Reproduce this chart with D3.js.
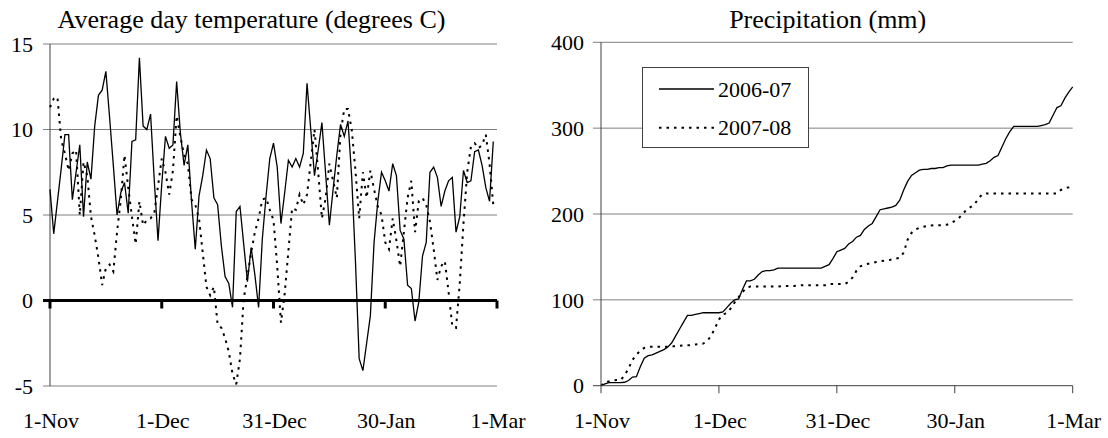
<!DOCTYPE html>
<html>
<head>
<meta charset="utf-8">
<script src="https://cdn.jsdelivr.net/npm/d3@7/dist/d3.min.js"></script>
<style>
  body { margin: 0; background: #fff; }
</style>
</head>
<body>
<div id="chart"></div>
<script>
// day index 0 = 1-Nov
const dayTicks = [0, 30, 60, 90, 120];
const dayLabels = ["1-Nov", "1-Dec", "31-Dec", "30-Jan", "1-Mar"];
const seasons = ["2006-07", "2007-08"];

const tempTicks = [-5, 0, 5, 10, 15];
const rainTicks = [0, 100, 200, 300, 400];

// average day temperature, degrees C, 1-Nov .. 28-Feb
const temp0607 = [
  6.5, 3.9, 5.8, 7.7, 9.7, 9.7, 5.9, 7.5, 9.1, 4.9,
  8.1, 7.1, 10.2, 12.0, 12.3, 13.4, 10.7, 7.9, 5.0, 6.3,
  6.9, 5.1, 9.3, 9.4, 14.2, 10.2, 10.0, 10.9, 7.0, 3.5,
  6.8, 9.6, 8.9, 9.1, 12.8, 9.8, 7.9, 9.1, 5.8, 3.0,
  6.1, 7.3, 8.8, 8.3, 6.0, 5.6, 3.2, 1.4, 1.0, -0.4,
  5.2, 5.5, 3.3, 1.1, 3.1, 1.5, -0.4, 3.6, 6.1, 8.3,
  9.2, 7.8, 4.5, 6.3, 8.2, 7.8, 8.3, 7.8, 8.6, 12.7,
  10.0, 7.3, 8.8, 10.4, 7.4, 4.4, 6.5, 8.5, 10.3, 9.6,
  10.5, 7.2, 2.3, -3.4, -4.1, -2.5, -0.9, 3.4, 5.8, 7.5,
  7.0, 6.4, 8.0, 7.3, 4.1, 3.6, 0.9, 0.7, -1.2, -0.1,
  2.6, 3.4, 7.5, 7.8, 7.2, 5.5, 6.4, 7.0, 7.2, 4.0,
  4.9, 7.6, 6.9, 7.0, 8.7, 8.8, 7.9, 6.6, 5.8, 9.3
];
const temp0708 = [
  11.3, 11.8, 11.9, 9.4, 8.6, 7.6, 8.6, 8.8, 5.0, 8.1,
  7.3, 4.9, 3.8, 2.5, 0.9, 1.9, 2.1, 1.7, 4.0, 5.9,
  8.5, 6.6, 4.9, 3.3, 5.8, 4.4, 4.7, 4.8, 5.1, 6.7,
  8.3, 7.5, 6.2, 7.6, 10.8, 9.6, 8.5, 8.0, 5.9, 5.6,
  4.8, 2.8, 0.8, 0.3, 0.8, -1.4, -1.6, -2.2, -3.0, -4.3,
  -4.9, -3.4, 0.1, 1.4, 2.8, 4.0, 4.8, 5.9, 6.0, 5.3,
  4.7, 2.0, -1.3, 0.4, 2.9, 5.4, 5.3, 6.2, 5.6, 6.2,
  8.1, 10.0, 7.5, 4.8, 6.0, 8.0, 7.0, 6.0, 9.8, 11.2,
  11.2, 10.0, 7.6, 4.8, 7.5, 6.0, 7.6, 6.5, 5.5, 5.0,
  3.4, 3.0, 4.8, 3.5, 2.0, 4.0, 6.0, 7.0, 4.0, 5.8,
  6.0, 5.6, 4.6, 3.0, 1.2, 2.0, 2.3, 0.5, -1.5, -1.6,
  1.0, 4.5, 7.5, 9.0, 9.2, 8.9, 9.1, 9.7, 8.0, 5.6
];

// cumulative precipitation, mm, 1-Nov .. 1-Mar
const rain0607 = [
  0, 2, 3.5, 3.5, 3.5, 3.5, 4, 6, 10, 10.5,
  22, 32, 35, 36, 38, 40, 42, 45, 50, 58,
  66, 74, 82, 82, 83, 84, 85, 85, 85, 85,
  85, 86, 91, 96, 100, 101, 112, 122, 122, 124,
  129, 133, 134, 134, 135, 137, 137, 137, 137, 137,
  137, 137, 137, 137, 137, 137, 137, 139, 141, 148,
  156, 158, 160, 165, 168, 173, 175, 182, 186, 189,
  197, 205, 206, 207, 208, 210, 216, 228, 238, 245,
  248, 251, 252, 252, 253, 253, 254, 254, 256, 257,
  257, 257, 257, 257, 257, 257, 257, 258, 259, 262,
  266, 268, 278, 288, 296, 302, 302, 302, 302, 302,
  302, 302, 303, 304, 306, 315, 324, 326, 335, 342,
  348
];
const rain0708 = [
  0, 4, 5, 6, 6.5, 6.6, 12, 20, 30, 36,
  41, 44, 45, 45.5, 45.5, 45.5, 45.5, 45.5, 46, 46,
  46.5, 47, 47, 47.4, 48, 48.5, 49, 52, 58, 67,
  77, 83, 84.5, 90, 97, 103, 109, 114, 115.5, 115.5,
  115.5, 115.5, 115.5, 115.5, 115.5, 115.5, 116, 116, 116, 116,
  116.5, 117, 117, 117, 117, 117, 117, 117, 118.5, 118.5,
  118.5, 118.5, 118.5, 121, 126, 134, 139, 141, 142, 143,
  144, 145, 145.5, 146, 147, 148, 149, 155, 170, 178,
  182, 184, 185, 186, 186.5, 187, 187, 187, 187.5, 189,
  192, 195, 200, 205, 208, 211, 218, 223, 224, 224,
  224, 224, 224, 224, 224, 224, 224, 224, 224, 224,
  224, 224, 224, 224, 224, 224, 224, 228, 230, 231,
  232
];

const gridColor = "#7f7f7f";
const dotted = "2.5,5";
const serif = "'Liberation Serif', 'DejaVu Serif', serif";

let svg = d3.select("#chart").append("svg")
  .attr("width", 1108).attr("height", 438);

// ---------- left: temperature ----------
let xT = d3.scaleLinear().domain([0, 120]).range([50, 497]);
let yT = d3.scaleLinear().domain([-5, 15]).range([386, 44]);

let left = svg.append("g");

label(left, 251.5, 28, 26, "middle").text("Average day temperature (degrees C)");

left.selectAll("line.grid")
  .data(tempTicks.filter(d => d !== 0))
  .enter().append("line")
  .attr("class", "grid")
  .attr("x1", 43).attr("x2", 497)
  .attr("y1", d => yT(d)).attr("y2", d => yT(d))
  .attr("stroke", gridColor).attr("stroke-width", 1);

left.append("line")
  .attr("x1", 50).attr("x2", 50)
  .attr("y1", yT(15)).attr("y2", yT(-5))
  .attr("stroke", "#404040").attr("stroke-width", 1);

tempTicks.forEach(function(t) {
  label(left, 33, yT(t), 22, "end").attr("dy", "0.35em").text(t);
});

drawLines(left, xT, yT, [
  { values: temp0607, dash: null },
  { values: temp0708, dash: dotted }
]);

// thick zero line with month ticks
left.append("line")
  .attr("x1", 43).attr("x2", 497)
  .attr("y1", yT(0)).attr("y2", yT(0))
  .attr("stroke", "#000").attr("stroke-width", 3);

left.selectAll("line.xtick")
  .data(dayTicks)
  .enter().append("line")
  .attr("class", "xtick")
  .attr("x1", d => xT(d)).attr("x2", d => xT(d))
  .attr("y1", yT(0)).attr("y2", yT(0) + 8)
  .attr("stroke", "#000").attr("stroke-width", 3);

xLabels(left, xT);

// ---------- right: precipitation ----------
let xR = d3.scaleLinear().domain([0, 120]).range([601, 1072.7]);
let yR = d3.scaleLinear().domain([0, 400]).range([385.7, 42.3]);

let right = svg.append("g");

label(right, 827.7, 28, 26, "middle").text("Precipitation (mm)");

right.selectAll("line.grid")
  .data(rainTicks.filter(d => d !== 0))
  .enter().append("line")
  .attr("class", "grid")
  .attr("x1", 593).attr("x2", 1072.7)
  .attr("y1", d => yR(d)).attr("y2", d => yR(d))
  .attr("stroke", gridColor).attr("stroke-width", 1);

rainTicks.forEach(function(t) {
  label(right, 584, yR(t), 22, "end").attr("dy", "0.35em").text(t);
});

drawLines(right, xR, yR, [
  { values: rain0607, dash: null },
  { values: rain0708, dash: dotted }
]);

right.append("line")
  .attr("x1", 601).attr("x2", 601)
  .attr("y1", yR(400)).attr("y2", yR(0))
  .attr("stroke", "#404040").attr("stroke-width", 1);

right.append("line")
  .attr("x1", 593).attr("x2", 1072.7)
  .attr("y1", yR(0)).attr("y2", yR(0))
  .attr("stroke", "#404040").attr("stroke-width", 1);

right.selectAll("line.xtick")
  .data(dayTicks)
  .enter().append("line")
  .attr("class", "xtick")
  .attr("x1", d => xR(d)).attr("x2", d => xR(d))
  .attr("y1", yR(0)).attr("y2", yR(0) + 7.5)
  .attr("stroke", "#404040").attr("stroke-width", 1);

xLabels(right, xR);

// legend
let legend = right.append("g");
legend.append("rect")
  .attr("x", 642.5).attr("y", 67.5)
  .attr("width", 166).attr("height", 80)
  .attr("fill", "#fff").attr("stroke", "#404040").attr("stroke-width", 1);

seasons.forEach(function(s, i) {
  let ly = 89 + i * 38.7;
  legend.append("line")
    .attr("x1", 659).attr("x2", 714)
    .attr("y1", ly).attr("y2", ly)
    .attr("stroke", "#000")
    .attr("stroke-width", i ? 2 : 1.3)
    .attr("stroke-dasharray", i ? dotted : null);
  label(legend, 718, ly, 22, "start").attr("dy", "0.35em").text(s);
});

function label(g, x, y, size, anchor) {
  return g.append("text")
    .attr("x", x).attr("y", y)
    .attr("text-anchor", anchor)
    .attr("fill", "#000")
    .style("font-family", serif)
    .style("font-size", size + "px");
}

function drawLines(g, x, y, series) {
  let line = d3.line()
    .x(function(d, i) { return x(i); })
    .y(function(d) { return y(d); });

  g.selectAll("path.series")
    .data(series)
    .enter().append("path")
    .attr("class", "series")
    .attr("d", function(d) { return line(d.values); })
    .attr("fill", "none")
    .attr("stroke", "#000")
    .attr("stroke-width", function(d) { return d.dash ? 2 : 1.3; })
    .attr("stroke-dasharray", function(d) { return d.dash; });
}

function xLabels(g, x) {
  dayTicks.forEach(function(t, i) {
    label(g, x(t) + 1, 428, 22, "middle").text(dayLabels[i]);
  });
}
</script>
</body>
</html>
